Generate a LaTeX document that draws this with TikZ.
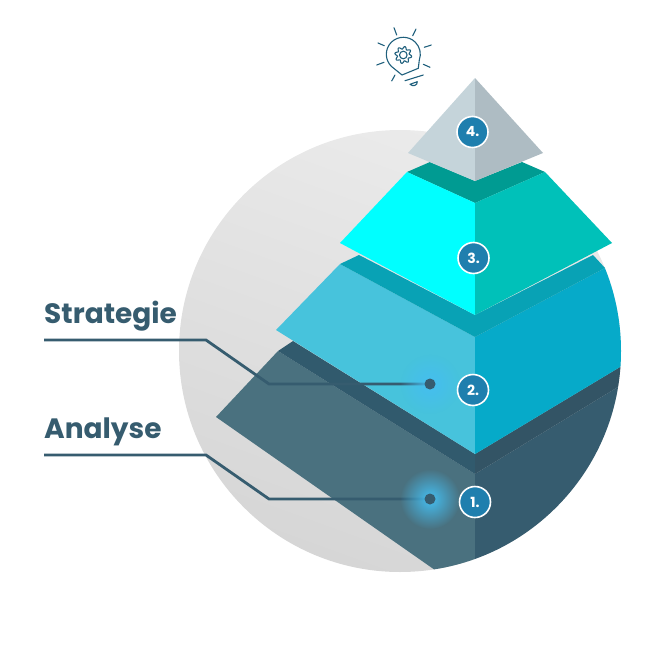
\documentclass[tikz,border=0pt]{standalone}
\usepackage{fontspec}
\setmainfont{Poppins}
\usetikzlibrary{shadows,fadings}
\definecolor{slate}{HTML}{365C6F}
\definecolor{badge}{HTML}{1F7FAE}
\definecolor{glowblue}{HTML}{45BEF0}
\definecolor{iconblue}{HTML}{1F5F7C}
\definecolor{disctop}{HTML}{EBEBEB}
\definecolor{discbottom}{HTML}{D6D6D6}
\definecolor{oneleft}{HTML}{4A717F}
\definecolor{onebandl}{HTML}{315A6D}
\definecolor{onebandr}{HTML}{335465}
\definecolor{twoleft}{HTML}{47C3DC}
\definecolor{tworight}{HTML}{06AAC9}
\definecolor{twoband}{HTML}{08A2B5}
\definecolor{threeleft}{HTML}{00FFFF}
\definecolor{threeright}{HTML}{00C1B9}
\definecolor{threeband}{HTML}{009B92}
\definecolor{fourleft}{HTML}{C5D4DA}
\definecolor{fourright}{HTML}{AEBCC3}
\tikzfading[name=glowfade, inner color=transparent!0, outer color=transparent!100]
\tikzset{
  stepbadge/.style={circle, draw=white, line width=1.6pt, fill=badge, text=white, minimum size=31pt, inner sep=0pt, font=\fontsize{14}{14}\selectfont\bfseries, drop shadow={shadow xshift=.5pt, shadow yshift=-.7pt, opacity=.35}},
  dot/.style={circle, fill=slate, minimum size=11pt, inner sep=0pt},
  lvllabel/.style={anchor=base west, inner sep=0pt, text=slate, font=\fontsize{28}{28}\selectfont\bfseries},
  leader/.style={slate, line width=2.8pt, line join=miter},
  iconline/.style={draw=iconblue, line width=1.1pt, line cap=round, line join=round},
}
\begin{document}
\begin{tikzpicture}[x=1pt,y=-1pt]
\useasboundingbox (0,0) rectangle (648,648);
\shade[top color=disctop, bottom color=discbottom, shading angle=-20] (400,351) circle (221);

% lower levels are cut by the disc
\begin{scope}
\clip (400,351) circle (221);
\fill[oneleft] (216,417) -- (278,351) -- (475,474) -- (475,598) -- cycle;
\fill[slate] (475,474) -- (650,367.5) -- (650,600) -- (475,600) -- cycle;
\fill[onebandl] (293,341) -- (278,351) -- (475,474) -- (475,454) -- cycle;
\fill[onebandr] (475,454) -- (650,349) -- (650,367.5) -- (475,474) -- cycle;
\fill[twoleft] (276,330) -- (340,264) -- (475,337) -- (475,454) -- cycle;
\fill[tworight] (475,337) -- (605,268) -- (650,268) -- (650,349) -- (475,454) -- cycle;
\fill[twoband] (359,255) -- (340,264) -- (475,337) -- (605,268) -- (593,255) -- (475,315) -- cycle;
\end{scope}

% level 3
\fill[threeband] (430,162) -- (407,172) -- (475,203) -- (545,172) -- (522,162) -- (475,181) -- cycle;
\fill[threeleft] (407,172) -- (475,203) -- (475,315) -- (340,243) -- cycle;
\fill[threeright] (475,203) -- (545,172) -- (612,243) -- (475,315) -- cycle;
% level 4
\fill[fourleft] (475,78) -- (475,181) -- (408,153) -- cycle;
\fill[fourright] (475,78) -- (543,153) -- (475,181) -- cycle;

\node[lvllabel] (strategie) at (44,323) {Strategie};
\node[lvllabel] (analyse) at (44,438) {Analyse};

\coordinate (strategiea) at (44,340);
\coordinate (strategieb) at (206,340);
\coordinate (strategiec) at (269,384);
\coordinate (analysea) at (44,455);
\coordinate (analyseb) at (206,455);
\coordinate (analysec) at (269,499);
\node[dot, fill=none] (dottwo) at (430,384) {};
\node[dot, fill=none] (dotone) at (430,499) {};

\draw[leader] (strategiea) -- (strategieb) -- (strategiec) -- (dottwo.center);
\draw[leader] (analysea) -- (analyseb) -- (analysec) -- (dotone.center);
\fill[glowblue, path fading=glowfade] (dottwo.center) circle (30);
\fill[glowblue, path fading=glowfade] (dotone.center) circle (30);
\node[dot] at (dottwo) {};
\node[dot] at (dotone) {};

\node[stepbadge] (one) at (475,502) {1.};
\node[stepbadge] (two) at (473,390) {2.};
\node[stepbadge] (three) at (473.5,258) {3.};
\node[stepbadge] (four) at (472.5,132) {4.};

% lightbulb
\draw[iconline] (391.3,66.3) arc[start angle=135, end angle=380, radius=17] -- (418.3,68.3) -- (402,75) -- cycle;
\draw[iconline, shift={(403.3,55)}] plot[domain=0:360, samples=97, smooth] (\x:{7.2+1.3*sin(8*\x)}) -- cycle;
\draw[iconline] (403.3,55) circle (3.8);
\foreach \xa/\ya/\xb/\yb in {394/27.7/396.7/35, 416/29/412.7/35.7, 378/43/384.3/45.7, 431.3/45/424.3/47.3, 376.7/65/384/62.3, 423.3/64.3/430/67.3, 395/75/391.7/81, 405/80.7/423.3/75} {
  \draw[iconline] (\xa,\ya) -- (\xb,\yb);
}
\draw[iconline] (410,84.3) -- (417.3,81.7) .. controls (417.5,85.5) and (413,87) .. (410,84.3);
\end{tikzpicture}
\end{document}
